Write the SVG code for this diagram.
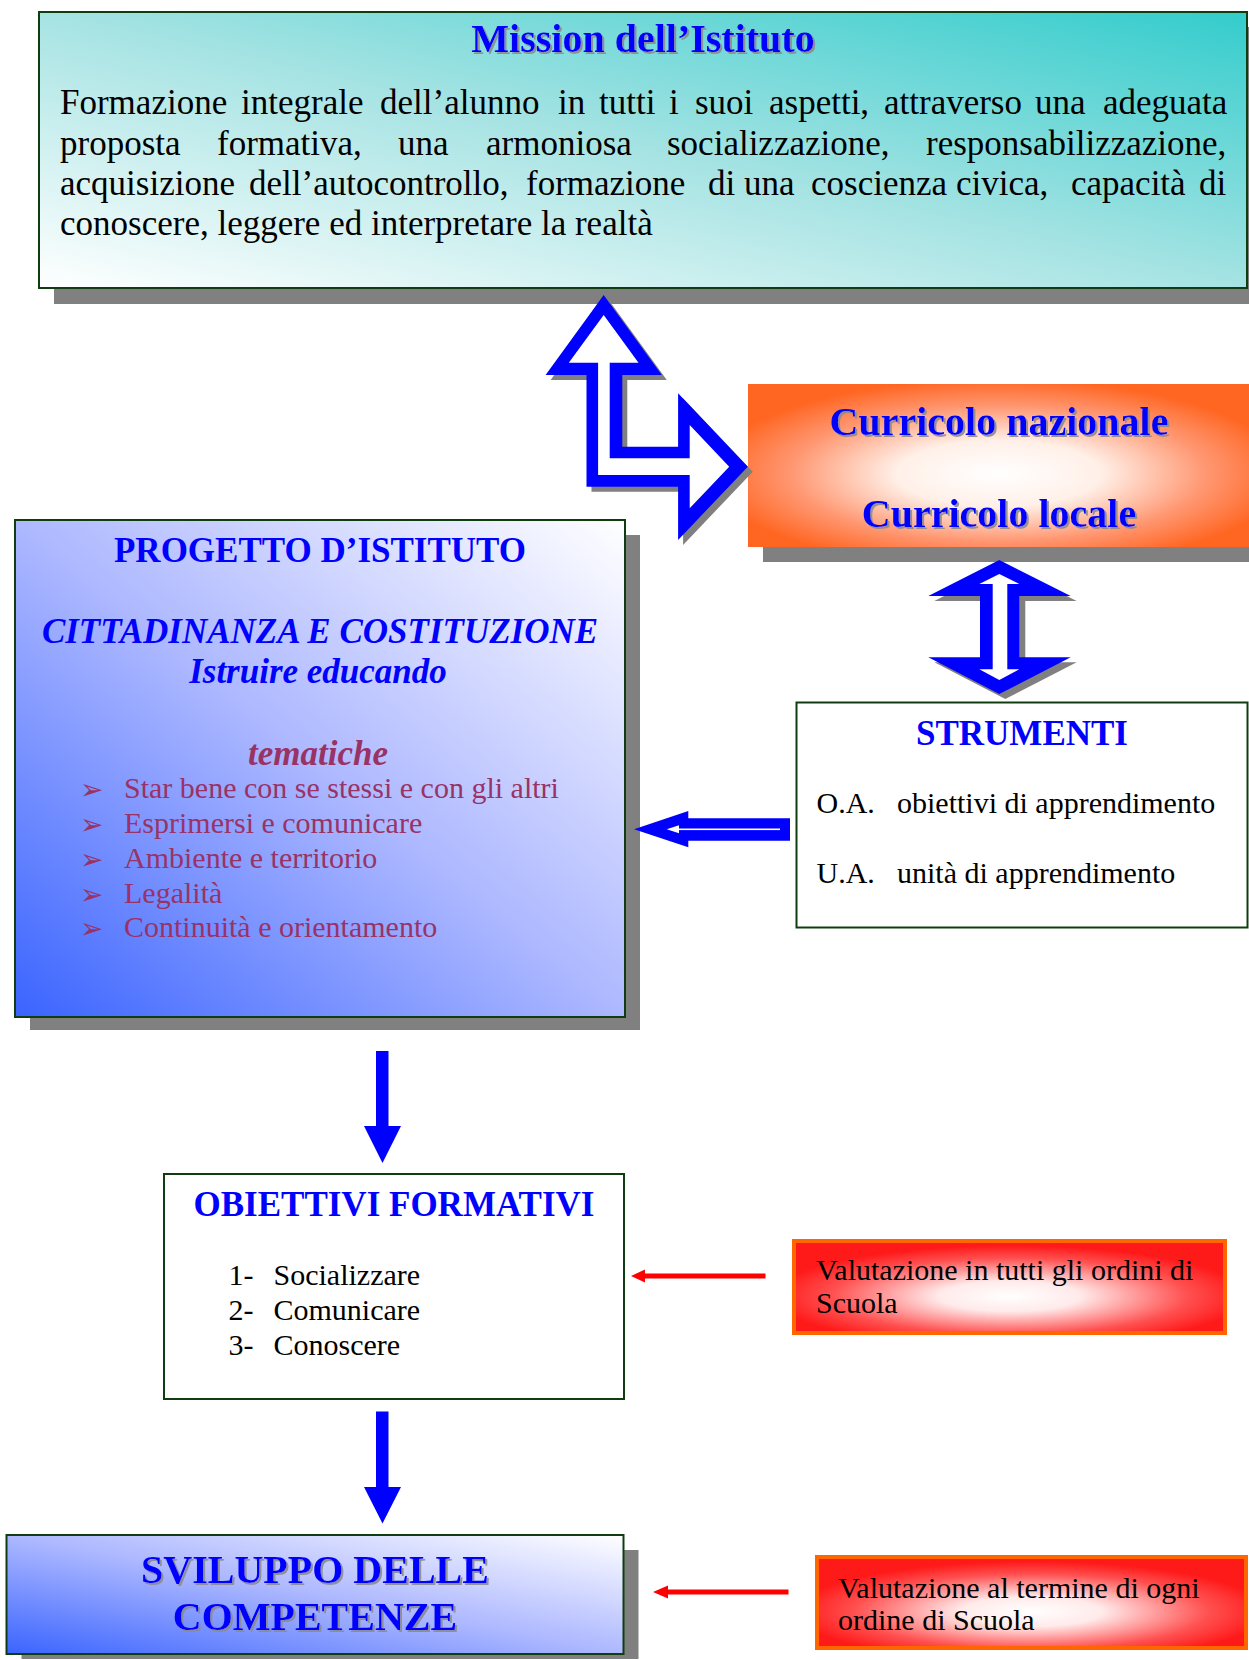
<svg xmlns="http://www.w3.org/2000/svg" width="1249" height="1660" viewBox="0 0 1249 1660">
<defs>
<style>
.ttl{font-family:"Liberation Serif","Times New Roman",serif;font-weight:bold;fill:#0000FF}
.big{font-size:40px;filter:url(#ts)}
.h35{font-size:35px}
.body{font-family:"Liberation Serif","Times New Roman",serif;font-size:35px;fill:#000}
.t30{font-family:"Liberation Serif","Times New Roman",serif;font-size:30px;fill:#000}
.mar{font-family:"Liberation Serif","Times New Roman",serif;font-size:30px;fill:#993366}
.bul{font-family:"DejaVu Sans",sans-serif;font-size:28px;fill:#993366}
.box{stroke:#0F3D0F;stroke-width:2}
.shadow{fill:#808080}
.blue{fill:#0000FF}
.red{fill:#FF0000}
</style>
<filter id="ts" x="-5%" y="-20%" width="110%" height="140%">
<feDropShadow dx="2" dy="2" stdDeviation="0.6" flood-color="#8C8C8C" flood-opacity="0.9"/>
</filter>
<linearGradient id="gTeal" x1="0" y1="1" x2="1" y2="0">
<stop offset="0" stop-color="#FFFFFF"/>
<stop offset="0.5" stop-color="#A6E3E3"/>
<stop offset="1" stop-color="#33CCCC"/>
</linearGradient>
<linearGradient id="gBlue" x1="0" y1="1" x2="1" y2="0">
<stop offset="0" stop-color="#3A64FF"/>
<stop offset="0.5" stop-color="#ADB8FF"/>
<stop offset="1" stop-color="#FFFFFF"/>
</linearGradient>
<radialGradient id="gOrange" cx="0.5" cy="0.55" r="0.58">
<stop offset="0" stop-color="#FFFFFF"/>
<stop offset="0.35" stop-color="#FFF0E8"/>
<stop offset="0.72" stop-color="#FF9670"/>
<stop offset="1" stop-color="#FF6622"/>
</radialGradient>
<radialGradient id="gRed" cx="0.5" cy="0.6" r="0.55">
<stop offset="0" stop-color="#FFFFFF"/>
<stop offset="0.3" stop-color="#FFEAEA"/>
<stop offset="0.75" stop-color="#FF5050"/>
<stop offset="1" stop-color="#FF1A1A"/>
</radialGradient>
</defs>
<rect width="1249" height="1660" fill="#FFFFFF"/>

<g id="mission">
<rect class="shadow" x="54" y="27" width="1208" height="277"/>
<rect class="box" x="39" y="12" width="1208" height="276" fill="url(#gTeal)"/>
<text class="ttl big" x="643" y="52" text-anchor="middle">Mission dell’Istituto</text>
<text class="body" y="114"><tspan x="60">Formazione</tspan><tspan x="241">integrale</tspan><tspan x="380">dell’alunno</tspan><tspan x="558">in</tspan><tspan x="599">tutti</tspan><tspan x="669">i</tspan><tspan x="695">suoi</tspan><tspan x="769">aspetti,</tspan><tspan x="884">attraverso</tspan><tspan x="1035">una</tspan><tspan x="1103">adeguata</tspan></text>
<text class="body" y="154.5"><tspan x="60">proposta</tspan><tspan x="217">formativa,</tspan><tspan x="398">una</tspan><tspan x="486">armoniosa</tspan><tspan x="667">socializzazione,</tspan><tspan x="926">responsabilizzazione,</tspan></text>
<text class="body" y="195"><tspan x="60">acquisizione</tspan><tspan x="249">dell’autocontrollo,</tspan><tspan x="526">formazione</tspan><tspan x="708">di</tspan><tspan x="744">una</tspan><tspan x="811">coscienza</tspan><tspan x="956">civica,</tspan><tspan x="1071">capacità</tspan><tspan x="1199">di</tspan></text>
<text class="body" x="60" y="235">conoscere, leggere ed interpretare la realtà</text>
</g>

<g id="curricolo">
<rect class="shadow" x="763" y="399" width="501" height="163"/>
<rect x="748" y="384" width="501" height="163" fill="url(#gOrange)"/>
<text class="ttl big" x="999" y="435" text-anchor="middle">Curricolo nazionale</text>
<text class="ttl big" x="999" y="527" text-anchor="middle">Curricolo locale</text>
</g>

<g id="progetto">
<rect class="shadow" x="30" y="535" width="610" height="495"/>
<rect class="box" x="15" y="520" width="610" height="497" fill="url(#gBlue)"/>
<text class="ttl h35" x="320" y="562" text-anchor="middle">PROGETTO D’ISTITUTO</text>
<text class="ttl h35" x="320" y="643" text-anchor="middle" font-style="italic">CITTADINANZA E COSTITUZIONE</text>
<text class="ttl h35" x="318" y="683" text-anchor="middle" font-style="italic">Istruire educando</text>
<text class="h35" x="318" y="765" text-anchor="middle" font-style="italic" font-weight="bold" fill="#993366" font-family="Liberation Serif, Times New Roman, serif">tematiche</text>
<text class="bul" x="80" y="799">➢</text>
<text class="bul" x="80" y="834">➢</text>
<text class="bul" x="80" y="869">➢</text>
<text class="bul" x="80" y="904">➢</text>
<text class="bul" x="80" y="938">➢</text>
<text class="mar" x="124" y="798">Star bene con se stessi e con gli altri</text>
<text class="mar" x="124" y="833">Esprimersi e comunicare</text>
<text class="mar" x="124" y="868">Ambiente e territorio</text>
<text class="mar" x="124" y="903">Legalità</text>
<text class="mar" x="124" y="937">Continuità e orientamento</text>
</g>

<g id="strumenti">
<rect class="box" x="796.5" y="702.5" width="451" height="225" fill="#FFFFFF"/>
<text class="ttl h35" x="1022" y="745" text-anchor="middle">STRUMENTI</text>
<text class="t30" x="816.5" y="813">O.A.</text>
<text class="t30" x="897" y="813">obiettivi di apprendimento</text>
<text class="t30" x="816.5" y="882.5">U.A.</text>
<text class="t30" x="897" y="882.5">unità di apprendimento</text>
</g>

<g id="obiettivi">
<rect class="box" x="164" y="1174" width="460" height="225" fill="#FFFFFF"/>
<text class="ttl h35" x="394" y="1216" text-anchor="middle">OBIETTIVI FORMATIVI</text>
<text class="t30" x="228.5" y="1285">1-</text>
<text class="t30" x="273.5" y="1285">Socializzare</text>
<text class="t30" x="228.5" y="1320">2-</text>
<text class="t30" x="273.5" y="1320">Comunicare</text>
<text class="t30" x="228.5" y="1354.5">3-</text>
<text class="t30" x="273.5" y="1354.5">Conoscere</text>
</g>

<g id="valutazione1">
<rect x="794" y="1241" width="431" height="92" fill="url(#gRed)" stroke="#FF6600" stroke-width="4"/>
<text class="t30" x="816" y="1279.5">Valutazione in tutti gli ordini di</text>
<text class="t30" x="816" y="1313">Scuola</text>
</g>

<g id="sviluppo">
<rect class="shadow" x="21.5" y="1550" width="617" height="109"/>
<rect class="box" x="6.5" y="1535" width="617" height="119" fill="url(#gBlue)"/>
<text class="ttl big" x="315" y="1583" text-anchor="middle">SVILUPPO DELLE</text>
<text class="ttl big" x="315" y="1630" text-anchor="middle">COMPETENZE</text>
</g>

<g id="valutazione2">
<rect x="817" y="1557" width="429" height="91" fill="url(#gRed)" stroke="#FF6600" stroke-width="4"/>
<text class="t30" x="838" y="1597.5">Valutazione al termine di ogni</text>
<text class="t30" x="838" y="1630">ordine di Scuola</text>
</g>

<g id="connectors">
<polygon class="shadow" transform="translate(5,5)" points="603.7,295 661.8,375 622.3,375 622.3,446.7 678.1,446.7 678.1,393.3 747.8,466.7 678.1,540 678.1,486.7 586.5,486.7 586.5,375 545.6,375"/>
<polygon class="blue" points="603.7,295 661.8,375 622.3,375 622.3,446.7 678.1,446.7 678.1,393.3 747.8,466.7 678.1,540 678.1,486.7 586.5,486.7 586.5,375 545.6,375"/>
<polygon fill="#FFFFFF" points="603.7,315 638.5,362.7 609.7,362.7 609.7,458.3 689.7,458.3 689.7,425 729.2,466.7 689.7,508.3 689.7,475 598.1,475 598.1,362.7 568.8,362.7"/>
<polygon class="shadow" transform="translate(6,5)" points="999.3,560 1070.7,596 1019.3,596 1019.3,657.3 1070.7,657.3 999.3,694 928.3,657.3 980,657.3 980,596 928.3,596"/>
<polygon class="blue" points="999.3,560 1070.7,596 1019.3,596 1019.3,657.3 1070.7,657.3 999.3,694 928.3,657.3 980,657.3 980,596 928.3,596"/>
<polygon fill="#FFFFFF" points="999.3,574 1019.3,584 1007.3,584 1007.3,669.3 1019.3,669.3 999.3,680 979.3,669.3 992.7,669.3 992.7,584 979.3,584"/>
<polygon class="blue" points="634,829.3 688.3,811 688.3,818.3 790,818.3 790,840.7 688.3,840.7 688.3,847.3"/>
<rect x="674" y="828.5" width="106" height="1.6" fill="#FFFFFF"/>
<polygon fill="#FFFFFF" points="666.7,829.3 679,825.3 679,833.3"/>
<polygon class="blue" points="376,1051 388.5,1051 388.5,1126 401,1126 382.5,1163 364,1126 376,1126"/>
<polygon class="blue" points="376,1411.5 388.5,1411.5 388.5,1487 401,1487 382.5,1523.5 364,1487 376,1487"/>
<polygon class="red" points="631,1276 645,1269.5 645,1273.5 765.5,1273.5 765.5,1278.5 645,1278.5 645,1282.5"/>
<polygon class="red" points="653,1592 668,1585.5 668,1589.5 788.5,1589.5 788.5,1594.5 668,1594.5 668,1598.5"/>
</g>
</svg>
